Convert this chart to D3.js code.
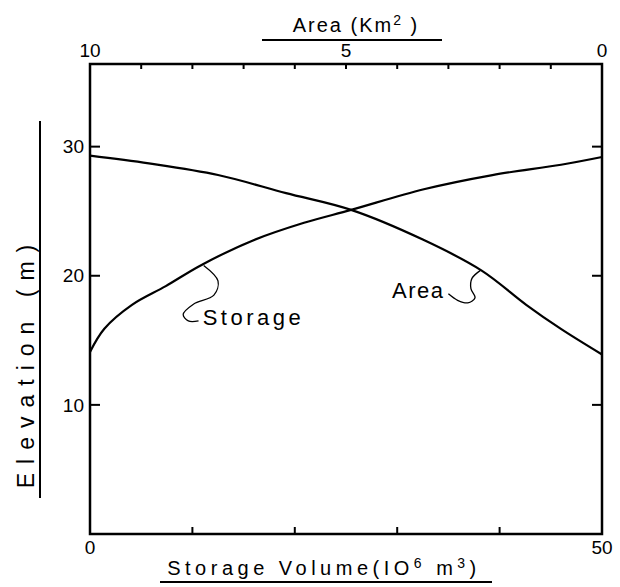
<!DOCTYPE html>
<html>
<head>
<meta charset="utf-8">
<script src="https://cdn.jsdelivr.net/npm/d3@7"></script>
<style>
	body { margin: 0; background: #fff; }
	svg { display: block; font-family: "Liberation Sans Narrow", "Liberation Sans", Arial, sans-serif; }
	.frame { fill: none; stroke: #000; stroke-width: 2.5; }
	.tick { stroke: #000; stroke-width: 2; }
	.curve { fill: none; stroke: #000; stroke-width: 2.2; }
	.brace { fill: none; stroke: #000; stroke-width: 1.3; }
	.lbl { font-size: 19px; fill: #000; }
	.title { font-size: 20px; fill: #000; letter-spacing: 2px; }
</style>
</head>
<body>
<div id="chart"></div>
<script>
// storage curve (bottom axis, 10^6 m3) and area curve (top axis, km2)
var storageVolume = [0, 1.4, 4.1, 7.4, 10.8, 15.8, 20.9, 25.5, 32.6, 39.3, 46, 50];
var storageElev   = [14.1, 15.9, 17.75, 19.2, 20.8, 22.7, 24.1, 25.1, 26.7, 27.8, 28.6, 29.2];

var areaKm2  = [10, 8.85, 7.5, 6.17, 4.9, 3.5, 2.35, 1.48, 0.81, 0];
var areaElev = [29.3, 28.7, 27.8, 26.4, 25.1, 22.8, 20.4, 17.75, 15.9, 13.9];

var elevTicks = [10, 20, 30];
var storageTicks = [0, 10, 20, 30, 40, 50];
var storageTickLabels = ["0", "", "", "", "", "50"];
var areaTicks = [10, 9, 8, 7, 6, 5, 4, 3, 2, 1, 0];
var areaTickLabels = {10: "10", 5: "5", 0: "0"};

var width = 620, height = 587;
var plot = {left: 90, right: 602, top: 64, bottom: 534};

var x = d3.scaleLinear().domain([0, 50]).range([plot.left, plot.right]);
var xArea = d3.scaleLinear().domain([10, 0]).range([plot.left, plot.right]);
var y = d3.scaleLinear().domain([0, 36.4]).range([plot.bottom, plot.top]);

var svg = d3.select("#chart")
	.append("svg")
	.attr("width", width)
	.attr("height", height);

svg.append("rect")
	.attr("class", "frame")
	.attr("x", plot.left)
	.attr("y", plot.top)
	.attr("width", plot.right - plot.left)
	.attr("height", plot.bottom - plot.top);

// elevation ticks, both sides, pointing in
svg.selectAll(".ltick").data(elevTicks).enter().append("line")
	.attr("class", "tick")
	.attr("x1", plot.left).attr("x2", plot.left + 10)
	.attr("y1", function(d) { return y(d); }).attr("y2", function(d) { return y(d); });

svg.selectAll(".rtick").data(elevTicks).enter().append("line")
	.attr("class", "tick")
	.attr("x1", plot.right).attr("x2", plot.right - 10)
	.attr("y1", function(d) { return y(d); }).attr("y2", function(d) { return y(d); });

svg.selectAll(".elevLabel").data(elevTicks).enter().append("text")
	.attr("class", "lbl")
	.attr("x", plot.left - 6)
	.attr("y", function(d) { return y(d); })
	.attr("dy", "0.35em")
	.attr("text-anchor", "end")
	.text(function(d) { return d; });

// storage ticks on the bottom
svg.selectAll(".btick").data(storageTicks.slice(1, -1)).enter().append("line")
	.attr("class", "tick")
	.attr("x1", function(d) { return x(d); }).attr("x2", function(d) { return x(d); })
	.attr("y1", plot.bottom).attr("y2", plot.bottom - 7);

svg.selectAll(".storLabel").data(storageTicks).enter().append("text")
	.attr("class", "lbl")
	.attr("x", function(d) { return x(d); })
	.attr("y", plot.bottom + 20)
	.attr("text-anchor", "middle")
	.text(function(d, i) { return storageTickLabels[i]; });

// area ticks on the top
svg.selectAll(".ttick").data(areaTicks.slice(1, -1)).enter().append("line")
	.attr("class", "tick")
	.attr("x1", function(d) { return xArea(d); }).attr("x2", function(d) { return xArea(d); })
	.attr("y1", plot.top).attr("y2", plot.top + 5);

svg.selectAll(".areaLabel").data(areaTicks).enter().append("text")
	.attr("class", "lbl")
	.attr("x", function(d) { return xArea(d); })
	.attr("y", plot.top - 7)
	.attr("text-anchor", "middle")
	.text(function(d) { return areaTickLabels[d] || ""; });

// curves
var storageLine = d3.line()
	.x(function(d, i) { return x(storageVolume[i]); })
	.y(function(d, i) { return y(storageElev[i]); })
	.curve(d3.curveCatmullRom);

var areaLine = d3.line()
	.x(function(d, i) { return xArea(areaKm2[i]); })
	.y(function(d, i) { return y(areaElev[i]); })
	.curve(d3.curveCatmullRom);

svg.append("path").attr("class", "curve").attr("d", storageLine(storageVolume));
svg.append("path").attr("class", "curve").attr("d", areaLine(areaKm2));

// leader braces, in storage / elevation units
var storageBrace = [[11.1, 20.8], [12.5, 19.6], [12.1, 18.5], [10.1, 17.8], [9.1, 17.0], [9.6, 16.5], [10.6, 16.5]];
var areaBrace = [[38.1, 20.4], [37.3, 19.8], [37.2, 19.0], [37.6, 18.3], [36.9, 17.9], [35.9, 18.1], [35.0, 18.6]];

var braceLine = d3.line()
	.x(function(d) { return x(d[0]); })
	.y(function(d) { return y(d[1]); })
	.curve(d3.curveCatmullRom);

svg.append("path").attr("class", "brace").attr("d", braceLine(storageBrace));
svg.append("path").attr("class", "brace").attr("d", braceLine(areaBrace));

svg.append("text")
	.attr("class", "lbl")
	.attr("x", x(11))
	.attr("y", y(16.2))
	.style("font-size", "22px")
	.style("letter-spacing", "3.5px")
	.text("Storage");

svg.append("text")
	.attr("class", "lbl")
	.attr("x", x(29.5))
	.attr("y", y(18.3))
	.style("font-size", "22px")
	.style("letter-spacing", "1.5px")
	.text("Area");

// axis titles with their underlines
var topTitle = svg.append("text")
	.attr("class", "title")
	.attr("x", 356)
	.attr("y", 32)
	.attr("text-anchor", "middle");
topTitle.append("tspan").text("Area (Km");
topTitle.append("tspan").attr("dy", -7).style("font-size", "14px").text("2");
topTitle.append("tspan").attr("dy", 7).text(" )");

svg.append("line")
	.attr("class", "tick")
	.attr("x1", 262).attr("x2", 442)
	.attr("y1", 40).attr("y2", 40);

var botTitle = svg.append("text")
	.attr("class", "title")
	.attr("x", 324)
	.attr("y", 575)
	.attr("text-anchor", "middle")
	.style("letter-spacing", "4.5px");
botTitle.append("tspan").text("Storage  Volume(IO");
botTitle.append("tspan").attr("dy", -7).style("font-size", "14px").text("6");
botTitle.append("tspan").attr("dy", 7).text("  m");
botTitle.append("tspan").attr("dy", -7).style("font-size", "14px").text("3");
botTitle.append("tspan").attr("dy", 7).text(")");

svg.append("line")
	.attr("class", "tick")
	.attr("x1", 160).attr("x2", 492)
	.attr("y1", 582).attr("y2", 582);

svg.append("text")
	.attr("class", "title")
	.attr("transform", "translate(34,362) rotate(-90)")
	.attr("text-anchor", "middle")
	.style("font-size", "23px")
	.style("letter-spacing", "9px")
	.text("Elevation   (m)");

svg.append("line")
	.attr("class", "tick")
	.attr("x1", 40).attr("x2", 40)
	.attr("y1", 121).attr("y2", 498);
</script>
</body>
</html>
